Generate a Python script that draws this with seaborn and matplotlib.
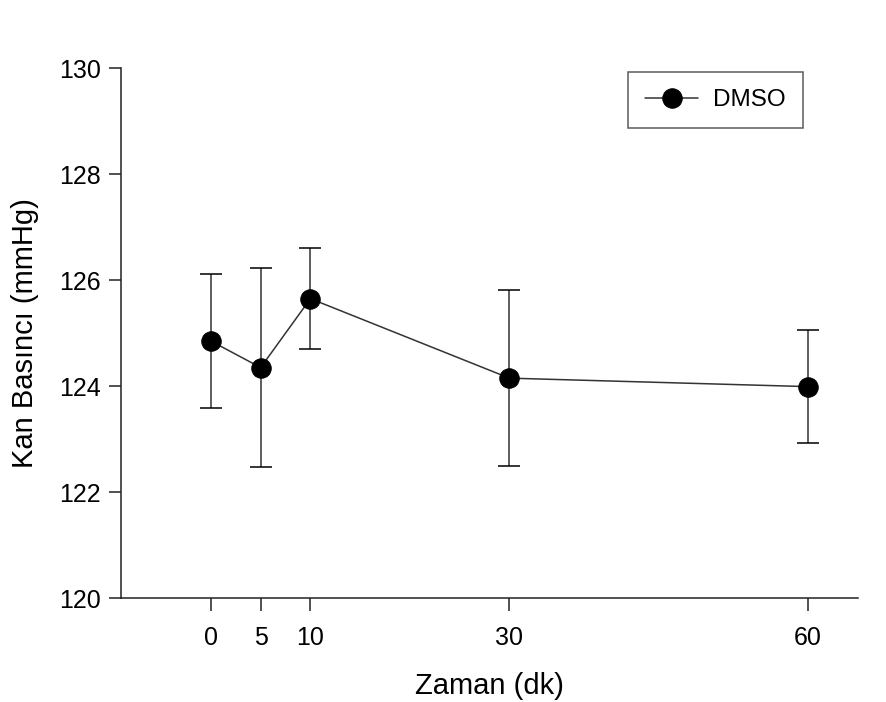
import matplotlib
matplotlib.use("Agg")
import matplotlib.pyplot as plt
import numpy as np
import pandas as pd
import seaborn as sns

# okunan degerler
zaman = [0, 5, 10, 30, 60]
kan_basinci = [124.85, 124.35, 125.65, 124.15, 123.99]
hata = [1.27, 1.88, 0.95, 1.66, 1.06]
x_ticks = [0, 5, 10, 30, 60]
y_ticks = [120, 122, 124, 126, 128, 130]

sns.set_style("ticks")
plt.rcParams["font.family"] = ["Liberation Sans", "DejaVu Sans"]

df = pd.DataFrame({"Zaman": zaman, "Kan": kan_basinci, "Grup": "DMSO"})

fig = plt.figure(figsize=(8.86, 7.02), dpi=100)
ax = fig.add_axes([0.137, 0.148, 0.831, 0.755])

ax.errorbar(
    zaman, kan_basinci, yerr=hata,
    fmt="none", ecolor="#333333", elinewidth=1.1, capsize=8, capthick=1.1, zorder=2,
)
sns.lineplot(
    data=df, x="Zaman", y="Kan", hue="Grup", palette=["black"],
    marker="o", markersize=14, linewidth=1.1, ax=ax, zorder=3,
)
for line in ax.lines:
    line.set_color("#333333")
    line.set_markerfacecolor("black")
    line.set_markeredgecolor("black")

ax.set_xlim(-9, 65)
ax.set_ylim(120, 130)
ax.set_xticks(x_ticks)
ax.set_yticks(y_ticks)
ax.tick_params(axis="both", direction="out", length=9, width=1.1, labelsize=18,
               pad=6, colors="#222222", labelcolor="black")
ax.tick_params(axis="x", pad=11)
for s in ["left", "bottom"]:
    ax.spines[s].set_linewidth(1.1)
    ax.spines[s].set_color("#222222")
sns.despine(ax=ax)

ax.set_xlabel("Zaman (dk)", fontsize=21, labelpad=16, color="black")
ax.set_ylabel("Kan Basıncı (mmHg)", fontsize=21, labelpad=14, color="black")

leg = ax.legend(
    loc="upper left", bbox_to_anchor=(628 / 886, 1 - 72 / 702),
    bbox_transform=fig.transFigure, fontsize=17.5, frameon=True, fancybox=False,
    handlelength=2.2, handletextpad=0.6, borderpad=0.7, borderaxespad=0,
)
leg.get_frame().set_edgecolor("#333333")
leg.get_frame().set_linewidth(1.1)
for t in leg.get_texts():
    t.set_color("black")

fig.savefig("out.png", dpi=100, facecolor="white")
